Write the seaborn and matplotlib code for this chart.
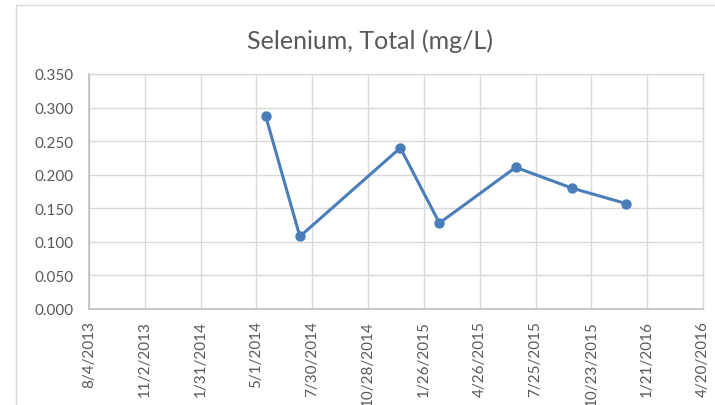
import seaborn as sns
import pandas as pd
import matplotlib.pyplot as plt
import matplotlib.dates as mdates
from matplotlib.ticker import FuncFormatter, MultipleLocator

# sample dates and values
dates = ['2014-05-16', '2014-07-10', '2014-12-19', '2015-02-20',
         '2015-06-23', '2015-09-22', '2015-12-18']
selenium = [0.287, 0.108, 0.240, 0.128, 0.211, 0.180, 0.157]

x_start = '2013-08-04'
x_end = '2016-04-20'
tick_step_days = 90

line_color = '#4a7ebb'
text_color = '#595959'
grid_color = '#d9d9d9'


def date_label(v, pos):
    d = mdates.num2date(v)
    return f"{d.month}/{d.day}/{d.year}"


df = pd.DataFrame({'date': pd.to_datetime(dates), 'value': selenium})

sns.set_theme(style="white")
plt.rcParams['font.family'] = ['Lato', 'DejaVu Sans']

fig = plt.figure(figsize=(7.15, 4.06), dpi=100)
ax = fig.add_axes([89 / 715, 1 - 310 / 406, 614 / 715, 235 / 406])

sns.lineplot(data=df, x='date', y='value', ax=ax, color=line_color,
             linewidth=2.2, marker='o', markersize=7.5, markeredgewidth=0)

start = pd.Timestamp(x_start)
end = pd.Timestamp(x_end)
ticks = pd.date_range(start, end, freq=f'{tick_step_days}D')
ax.set_xlim(mdates.date2num(start), mdates.date2num(end))
ax.set_xticks(mdates.date2num(ticks))
ax.xaxis.set_major_formatter(FuncFormatter(date_label))
ax.set_ylim(0, 0.35)
ax.yaxis.set_major_locator(MultipleLocator(0.05))
ax.yaxis.set_major_formatter(FuncFormatter(lambda v, p: f"{v:.3f}"))

ax.grid(True, color=grid_color, linewidth=1)
ax.set_axisbelow(True)
for side in ['top', 'right']:
    ax.spines[side].set_color(grid_color)
    ax.spines[side].set_linewidth(1)
for side in ['left', 'bottom']:
    ax.spines[side].set_color('#bfbfbf')
    ax.spines[side].set_linewidth(1.2)

ax.tick_params(axis='x', length=0, pad=8, labelsize=11,
               labelcolor=text_color, rotation=90)
ax.tick_params(axis='y', length=0, pad=11, labelsize=11,
               labelcolor=text_color)
ax.set_xlabel('')
ax.set_ylabel('')

fig.text(370 / 715, 1 - 41 / 406, 'Selenium, Total (mg/L)', ha='center',
         va='center', fontsize=18, color=text_color)

# chart area border
fig.patches.append(plt.Rectangle((16 / 715, -0.1), 2, 1 - 6 / 406 + 0.1,
                                 fill=False, edgecolor=grid_color,
                                 linewidth=1, transform=fig.transFigure))

plt.savefig('out.png', dpi=100)
